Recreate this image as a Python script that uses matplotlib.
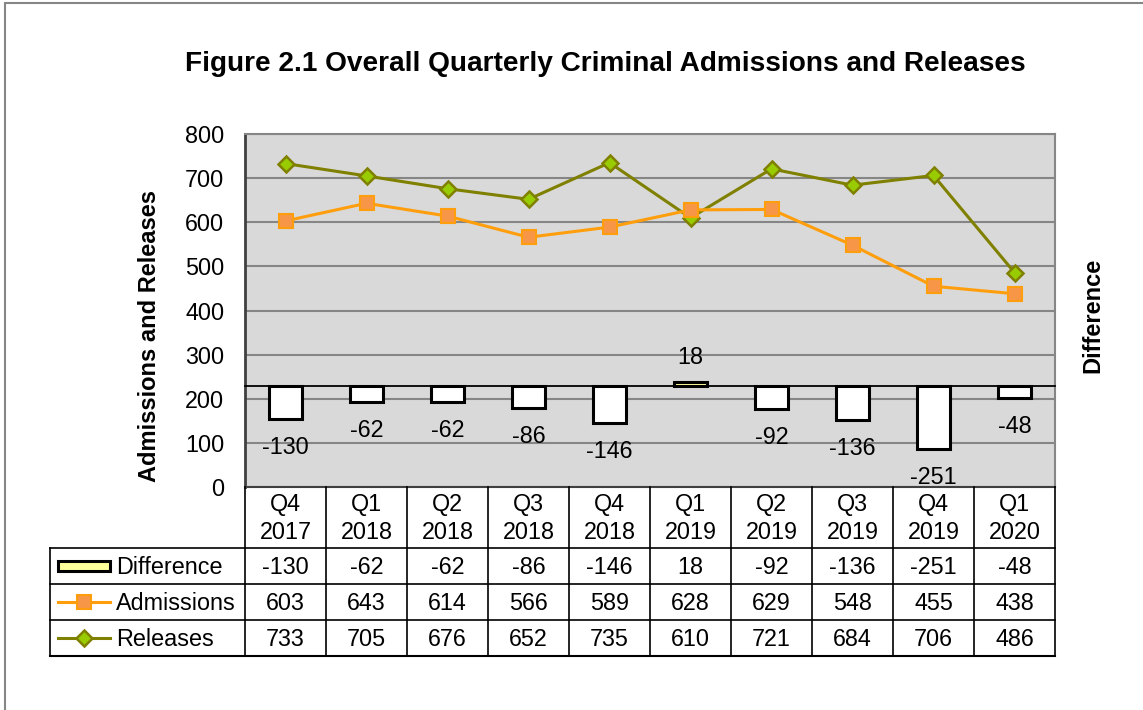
import numpy as np
import matplotlib
matplotlib.use("Agg")
import matplotlib.pyplot as plt
from matplotlib.lines import Line2D
from matplotlib.patches import Rectangle

plt.rcParams['font.family'] = ['Liberation Sans', 'DejaVu Sans']

# ---------------- data ----------------
quarters = ["Q4\n2017", "Q1\n2018", "Q2\n2018", "Q3\n2018", "Q4\n2018",
            "Q1\n2019", "Q2\n2019", "Q3\n2019", "Q4\n2019", "Q1\n2020"]
difference = [-130, -62, -62, -86, -146, 18, -92, -136, -251, -48]
admissions = [603, 643, 614, 566, 589, 628, 629, 548, 455, 438]
releases = [733, 705, 676, 652, 735, 610, 721, 684, 706, 486]
series_names = ["Difference", "Admissions", "Releases"]
title = "Figure 2.1 Overall Quarterly Criminal Admissions and Releases"

# ---------------- style ----------------
W, H = 1143, 710
DPI = 100
ORANGE_LINE = "#FF9E0D"
ORANGE_FILL = "#F79646"
OLIVE_LINE = "#808000"
OLIVE_FILL = "#99CC00"
YELLOW = "#FFFF99"
GRID = "#868686"
BG = "#D9D9D9"
FS = 16.8

def fx(px):
    return px / W

def fy(py):
    return 1 - py / H

fig = plt.figure(figsize=(W / DPI, H / DPI), dpi=DPI)

# outer chart border
fig.add_artist(Rectangle((fx(5), fy(1000)), fx(1200), fy(3) - fy(1000),
                         transform=fig.transFigure, fill=False,
                         edgecolor=GRID, lw=1.5))

AX_L, AX_R, AX_T, AX_B = 245, 1055, 134, 487
ax = fig.add_axes([fx(AX_L), fy(AX_B), fx(AX_R - AX_L), fy(AX_T) - fy(AX_B)])
n = len(quarters)
x = np.arange(n)
ax.set_xlim(-0.5, n - 0.5)
ax.set_ylim(0, 800)
ax.set_facecolor(BG)
ax.set_yticks(np.arange(0, 801, 100))
ax.tick_params(axis='y', length=0, labelsize=FS, pad=15)
ax.grid(axis='y', color=GRID, lw=1.5)
ax.set_axisbelow(True)
for s in ['top', 'right']:
    ax.spines[s].set_color(GRID)
    ax.spines[s].set_linewidth(1.5)
ax.spines['left'].set_color('#404040')
ax.spines['left'].set_linewidth(2)
ax.spines['bottom'].set_color('#404040')
ax.spines['bottom'].set_linewidth(1.5)

ax.plot(x, releases, color=OLIVE_LINE, lw=2.2, marker='D', ms=8.5,
        mfc=OLIVE_FILL, mec=OLIVE_LINE, mew=1.8, zorder=5)
ax.plot(x, admissions, color=ORANGE_LINE, lw=2.2, marker='s', ms=10,
        mfc=ORANGE_FILL, mec=ORANGE_LINE, mew=1.5, zorder=5)

# secondary (hidden) axis for the difference bars
ax2 = ax.twinx()
ax2.set_ylim(-400, 1000)
ax2.set_yticks([])
for s in ['top', 'right', 'left']:
    ax2.spines[s].set_visible(False)
ax2.spines['bottom'].set_position(('data', 0))
ax2.spines['bottom'].set_color('black')
ax2.spines['bottom'].set_linewidth(1.3)
ax2.set_xticks(np.arange(-0.5, n, 1.0))
ax2.tick_params(axis='x', bottom=True, labelbottom=False, direction='out',
                length=6, width=1, color='black')
ax.tick_params(axis='x', bottom=False, labelbottom=False)

colors = [YELLOW if d >= 0 else 'white' for d in difference]
ax2.bar(x, difference, width=0.41, color=colors, edgecolor='black', lw=2.2,
        zorder=3)
for xi, d in zip(x, difference):
    off = 17.3 if d >= 0 else -20.5
    ax2.annotate(f"{d}", (xi, d), xytext=(0, off), textcoords='offset points',
                 ha='center', va='center', fontsize=FS)

# labels and title
fig.text(fx(605), fy(64), title, ha='center', va='center', fontsize=20.2,
         fontweight='bold')
fig.text(fx(149), fy(336), "Admissions and Releases", rotation=90,
         ha='center', va='center', fontsize=17, fontweight='bold')
fig.text(fx(1093), fy(315), "Difference", rotation=90,
         ha='center', va='center', fontsize=17, fontweight='bold')

# ---------------- data table ----------------
TL = 50
HDR_B = 548
ROW_H = 36
rows_y = [HDR_B + ROW_H * i for i in range(4)]
col_w = (AX_R - AX_L) / n

def hline(y, x0, x1, lw=1.2, c='black'):
    fig.add_artist(Line2D([fx(x0), fx(x1)], [fy(y), fy(y)],
                          transform=fig.transFigure, color=c, lw=lw))

def vline(xp, y0, y1, lw=1.2, c='black'):
    fig.add_artist(Line2D([fx(xp), fx(xp)], [fy(y0), fy(y1)],
                          transform=fig.transFigure, color=c, lw=lw))

for y in rows_y:
    hline(y, TL, AX_R, lw=1.5 if y == rows_y[-1] else 1.2)
vline(TL, HDR_B, rows_y[-1])
for i in range(n + 1):
    vline(AX_L + i * col_w, AX_B, rows_y[-1])

for i, q in enumerate(quarters):
    cx = AX_L + (i + 0.5) * col_w
    fig.text(fx(cx), fy((AX_B + HDR_B) / 2 + 1), q, ha='center', va='center',
             fontsize=FS, linespacing=1.3)
    for r, vals in enumerate([difference, admissions, releases]):
        cy = rows_y[r] + ROW_H / 2
        fig.text(fx(cx), fy(cy + 1), f"{vals[i]}", ha='center', va='center',
                 fontsize=FS)

# legend keys in the table
for r, name in enumerate(series_names):
    cy = rows_y[r] + ROW_H / 2
    fig.text(fx(116), fy(cy + 1), name, ha='left', va='center', fontsize=FS)
k0, k1 = 58, 110
cy = rows_y[0] + ROW_H / 2
fig.add_artist(Rectangle((fx(k0), fy(cy + 5)), fx(k1 - k0), fy(cy - 5) - fy(cy + 5),
                         transform=fig.transFigure, facecolor=YELLOW,
                         edgecolor='black', lw=2.2))
cy = rows_y[1] + ROW_H / 2
fig.add_artist(Line2D([fx(k0), fx(k1)], [fy(cy), fy(cy)], transform=fig.transFigure,
                      color=ORANGE_LINE, lw=2.2))
fig.add_artist(Line2D([fx((k0 + k1) / 2)], [fy(cy)], transform=fig.transFigure,
                      marker='s', ms=10, mfc=ORANGE_FILL, mec=ORANGE_LINE, mew=1.5,
                      lw=0))
cy = rows_y[2] + ROW_H / 2
fig.add_artist(Line2D([fx(k0), fx(k1)], [fy(cy), fy(cy)], transform=fig.transFigure,
                      color=OLIVE_LINE, lw=2.2))
fig.add_artist(Line2D([fx((k0 + k1) / 2)], [fy(cy)], transform=fig.transFigure,
                      marker='D', ms=8.5, mfc=OLIVE_FILL, mec=OLIVE_LINE, mew=1.8,
                      lw=0))

fig.savefig("out.png", dpi=DPI)
